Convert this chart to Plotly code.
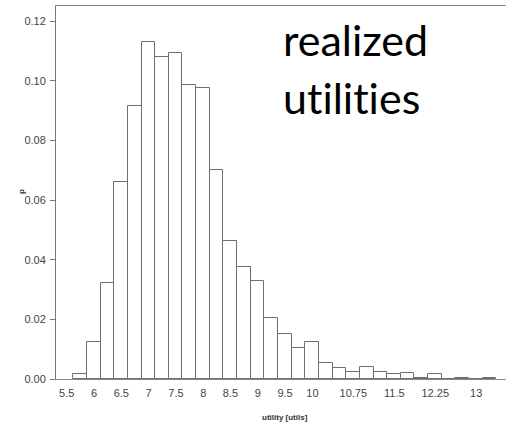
import plotly.graph_objects as go

# Histogram of realized utilities: bins of equal width, heights are probabilities
bin_start = 5.62
bin_width = 0.25
density = [0.0017, 0.0124, 0.0322, 0.0660, 0.0916, 0.1129, 0.1079, 0.1095,
           0.0985, 0.0975, 0.0700, 0.0464, 0.0375, 0.0330, 0.0206, 0.0151,
           0.0105, 0.0124, 0.0054, 0.0036, 0.0025, 0.0040, 0.0025, 0.0016,
           0.0020, 0.0004, 0.0017, 0.0, 0.0004, 0.0, 0.0004]

x_tick_vals = [5.5, 6, 6.5, 7, 7.5, 8, 8.5, 9, 9.5, 10, 10.75, 11.5, 12.25, 13]
x_tick_text = ["5.5", "6", "6.5", "7", "7.5", "8", "8.5", "9", "9.5", "10",
               "10.75", "11.5", "12.25", "13"]
y_tick_vals = [0.00, 0.02, 0.04, 0.06, 0.08, 0.10, 0.12]

centers = [bin_start + bin_width * (i + 0.5) for i in range(len(density))]

fig = go.Figure(go.Bar(
    x=centers,
    y=density,
    width=bin_width,
    marker=dict(color="white", line=dict(color="#6f6f6f", width=1)),
    hoverinfo="x+y",
))

tick_font = dict(family="Liberation Sans, Arial, sans-serif", size=11, color="#444")
big_font = dict(family="Lato, Open Sans, sans-serif", size=43, color="black")

# zero-width non-joiners keep "t" and "i" as separate glyphs (no ligature)
zwnj = "\u200c"
caption_lines = ["realized", "ut" + zwnj + "ilit" + zwnj + "ies"]

fig.update_layout(
    width=506,
    height=422,
    margin=dict(l=56, r=0, t=6, b=43),
    paper_bgcolor="white",
    plot_bgcolor="white",
    showlegend=False,
    bargap=0,
    xaxis=dict(
        range=[5.304, 13.546],
        tickvals=x_tick_vals,
        ticktext=x_tick_text,
        ticks="",
        showgrid=False,
        zeroline=False,
        showline=True,
        linecolor="#8a8a8a",
        linewidth=1,
        mirror=True,
        tickfont=tick_font,
        ticklabelstandoff=4,
    ),
    yaxis=dict(
        range=[0, 0.1251],
        tickvals=y_tick_vals,
        tickformat=".2f",
        ticks="outside",
        ticklen=5,
        tickcolor="#777",
        showgrid=False,
        zeroline=False,
        showline=True,
        linecolor="#777",
        linewidth=1,
        tickfont=tick_font,
        ticklabelstandoff=2,
    ),
    annotations=[
        dict(text=caption_lines[0], xref="paper", yref="paper", x=(281 - 56) / 450,
             y=(379 - 12) / 373, xanchor="left", yanchor="top", showarrow=False,
             font=big_font),
        dict(text=caption_lines[1], xref="paper", yref="paper", x=(281 - 56) / 450,
             y=(379 - 70) / 373, xanchor="left", yanchor="top", showarrow=False,
             font=big_font),
        dict(text="<b>utility [utils]</b>", xref="paper", yref="paper",
             x=(285 - 56) / 450, y=-(417 - 379) / 373, xanchor="center",
             yanchor="middle", showarrow=False,
             font=dict(family="Liberation Sans, Arial, sans-serif", size=8, color="#333")),
        dict(text="<b>p</b>", xref="paper", yref="paper", x=(21 - 56) / 450,
             y=(379 - 192) / 373, xanchor="center", yanchor="middle",
             textangle=-90, showarrow=False,
             font=dict(family="Liberation Sans, Arial, sans-serif", size=8, color="#333")),
    ],
)

fig.write_html("out.html")
